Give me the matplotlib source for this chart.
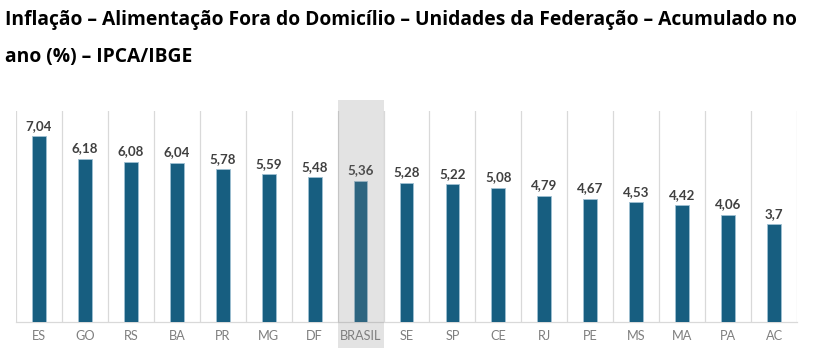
import matplotlib
matplotlib.use("Agg")
import matplotlib.pyplot as plt
from matplotlib.patches import Rectangle

# Acumulado no ano (%) por Unidade da Federação
ufs = ["ES", "GO", "RS", "BA", "PR", "MG", "DF", "BRASIL", "SE", "SP",
       "CE", "RJ", "PE", "MS", "MA", "PA", "AC"]
valores = [7.04, 6.18, 6.08, 6.04, 5.78, 5.59, 5.48, 5.36, 5.28, 5.22,
           5.08, 4.79, 4.67, 4.53, 4.42, 4.06, 3.7]
destaque = "BRASIL"

titulo_l1 = "Inflação – Alimentação Fora do Domicílio – Unidades da Federação – Acumulado no"
titulo_l2 = "ano (%) – IPCA/IBGE"

bar_color = "#175E80"
grid_color = "#D9D9D9"

fig = plt.figure(figsize=(8.31, 3.48), dpi=100)
ax = fig.add_axes([16 / 831, 26.3 / 348, 781 / 831, 210.7 / 348])

x = range(len(ufs))
ax.bar(x, valores, width=0.3, color=bar_color, edgecolor="#9FC0D3",
       linewidth=0.6, zorder=3)

for i, v in enumerate(valores):
    txt = f"{v:.2f}".replace(".", ",") if round(v, 1) != v else f"{v:g}".replace(".", ",")
    ax.text(i, v + 0.17, txt, ha="center", va="bottom", fontsize=9.6,
            fontweight="bold", color="#404040", family="Lato", zorder=4)

# separadores verticais entre categorias
for b in [i - 0.5 for i in range(len(ufs) + 1)]:
    ax.axvline(b, color=grid_color, linewidth=0.9, zorder=1)

ax.set_xlim(-0.5, len(ufs) - 0.5)
ax.set_ylim(0, 8)
ax.set_xticks(list(x))
ax.set_xticklabels(ufs, fontsize=9.2, color="#7F7F7F", family="Lato")
ax.tick_params(axis="x", length=0, pad=6)
ax.set_yticks([])
for s in ["top", "left", "right"]:
    ax.spines[s].set_visible(False)
ax.spines["bottom"].set_color(grid_color)
ax.spines["bottom"].set_linewidth(0.9)

# faixa cinza destacando o Brasil
k = ufs.index(destaque)
ax.add_patch(Rectangle((k - 0.5, -1.0), 1.0, 9.43, facecolor="#808080",
                       alpha=0.22, edgecolor="none", clip_on=False, zorder=10))

for txt, yc in [(titulo_l1, 20), (titulo_l2, 57)]:
    fig.text(5 / 831, 1 - yc / 348, txt, fontsize=13.9, fontweight="bold",
             family="Open Sans", color="#000000", va="center", ha="left")

fig.savefig("out.png", dpi=100)
